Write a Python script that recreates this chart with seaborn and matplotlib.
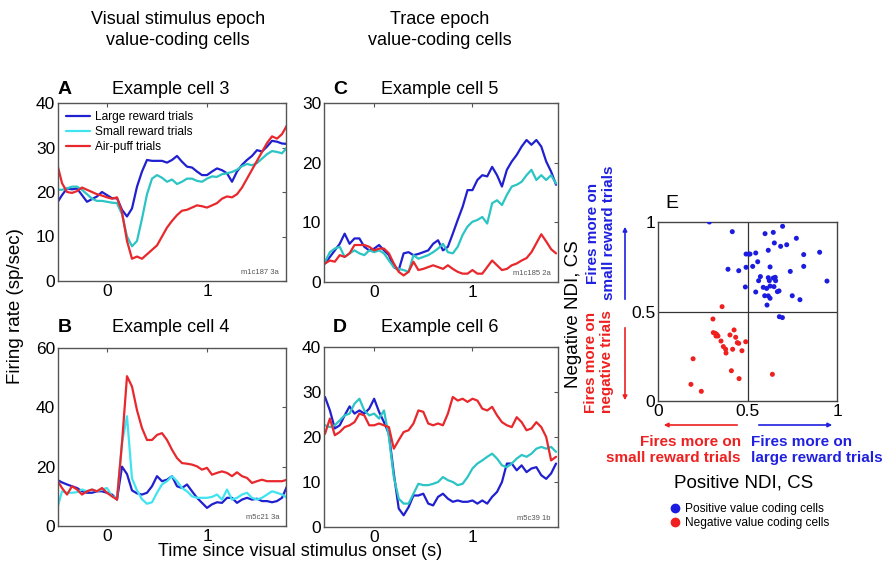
import numpy as np
import pandas as pd
import matplotlib
matplotlib.use("Agg")
import matplotlib.pyplot as plt
from matplotlib.lines import Line2D
from matplotlib.patches import FancyArrowPatch
import seaborn as sns

# ---------------- data ----------------
t_ab = np.round(np.arange(-0.5, 1.8001, 0.05), 2)   # time grid panels A, B
t_cd = np.round(np.arange(-0.5, 1.8501, 0.05), 2)   # time grid panels C, D

a_large = [17.5, 19.3, 20.8, 20.6, 20.8, 19.3, 17.8, 18.4, 19.0, 20.0,
           19.3, 18.6, 18.6, 16.0, 14.5, 16.3, 21.2, 24.6, 27.2, 27.0,
           27.0, 27.0, 26.6, 27.2, 28.1, 26.8, 25.7, 25.5, 24.6, 23.8,
           23.8, 24.6, 25.3, 24.9, 24.2, 22.3, 24.6, 26.1, 27.2, 28.1,
           29.4, 29.1, 30.2, 31.5, 31.3, 30.9, 30.8]
a_small = [20.5, 20.5, 20.8, 21.2, 21.2, 20.5, 19.5, 18.5, 18.0, 18.0,
           17.8, 17.6, 17.5, 15.0, 10.0, 7.8, 9.0, 14.0, 19.5, 23.0,
           23.8, 23.2, 22.3, 22.8, 21.8, 22.3, 23.0, 23.0, 22.5, 22.3,
           23.0, 23.5, 23.4, 24.0, 24.2, 24.5, 25.0, 25.8, 26.3, 26.0,
           26.5, 27.5, 28.5, 29.2, 29.0, 28.7, 30.0]
a_puff = [26.5, 22.0, 20.0, 19.8, 20.2, 21.0, 20.5, 20.0, 19.5, 19.2,
          18.8, 18.5, 18.8, 15.5, 9.0, 5.0, 5.5, 5.0, 6.0, 7.0,
          8.0, 10.0, 12.0, 13.5, 14.8, 15.8, 16.0, 16.5, 17.0, 16.8,
          16.5, 17.0, 17.5, 18.5, 19.0, 18.8, 19.5, 21.0, 23.0, 25.0,
          27.0, 29.0, 31.0, 32.5, 32.0, 33.0, 35.0]

b_large = [15.6, 14.7, 14.0, 13.4, 12.8, 11.7, 11.2, 11.2, 11.7, 11.7,
           11.2, 10.6, 8.9, 20.0, 17.5, 12.0, 11.0, 10.6, 11.2, 13.4,
           16.8, 15.1, 15.6, 16.8, 13.4, 12.8, 14.0, 11.7, 9.5, 7.8,
           6.1, 7.3, 8.0, 7.8, 9.5, 9.5, 7.8, 8.9, 9.5, 8.9,
           9.2, 8.4, 8.4, 8.0, 8.4, 9.5, 13.4]
b_small = [5.6, 11.7, 11.2, 11.2, 11.4, 12.3, 11.7, 12.3, 11.7, 12.3,
           12.8, 10.0, 9.5, 28.0, 37.0, 16.0, 12.0, 9.0, 7.5, 8.0,
           11.2, 14.0, 15.1, 16.8, 15.1, 12.8, 11.7, 10.0, 9.5, 9.5,
           9.5, 9.8, 10.6, 8.9, 12.3, 8.9, 9.5, 10.6, 11.2, 9.5,
           8.9, 9.5, 10.6, 11.7, 11.2, 10.6, 9.5]
b_puff = [15.6, 12.8, 10.6, 13.4, 12.3, 10.6, 11.7, 12.3, 11.7, 12.8,
          11.2, 10.0, 8.9, 28.0, 50.5, 47.0, 39.0, 33.0, 29.0, 29.0,
          30.7, 31.3, 29.0, 25.7, 22.9, 21.2, 21.0, 20.7, 20.1, 19.0,
          19.6, 17.3, 17.9, 18.4, 17.9, 16.8, 18.1, 16.8, 16.2, 14.5,
          15.1, 15.6, 15.1, 15.1, 15.1, 15.1, 15.6]

c_large = [3.1, 4.2, 5.3, 6.4, 8.1, 6.4, 7.3, 7.3, 5.9, 5.3,
           5.6, 6.2, 5.3, 4.5, 2.5, 2.0, 4.8, 5.0, 4.5, 4.7,
           5.0, 5.3, 6.4, 7.0, 5.3, 5.9, 8.1, 10.4, 12.6, 15.4,
           15.4, 17.1, 17.9, 17.7, 19.3, 17.9, 16.0, 18.8, 20.2, 21.3,
           22.7, 23.8, 23.0, 23.8, 22.7, 20.2, 18.5, 16.3]
c_small = [3.4, 5.0, 5.6, 5.9, 4.2, 4.8, 5.3, 4.8, 4.5, 5.3,
           5.0, 5.3, 4.8, 3.6, 2.5, 2.2, 2.0, 1.7, 4.5, 3.9,
           4.2, 4.5, 5.0, 5.6, 6.4, 5.0, 4.8, 5.9, 7.9, 9.3,
           10.1, 10.4, 10.9, 9.8, 13.2, 13.7, 12.9, 14.6, 16.0, 16.3,
           16.8, 17.9, 18.8, 17.1, 17.9, 17.1, 17.9, 16.5]
c_puff = [3.1, 3.6, 3.4, 4.5, 4.2, 4.8, 6.2, 6.2, 6.2, 5.9,
          5.3, 5.6, 5.6, 4.8, 3.1, 1.7, 1.1, 1.7, 3.4, 2.0,
          2.2, 2.5, 2.8, 2.5, 2.2, 2.8, 2.2, 1.7, 1.4, 1.4,
          2.0, 1.4, 1.4, 2.5, 3.6, 2.8, 2.0, 2.2, 2.8, 3.1,
          3.6, 4.0, 5.0, 6.5, 8.0, 6.8, 5.5, 4.8]

d_large = [28.9, 25.9, 21.9, 22.6, 24.8, 26.8, 25.2, 25.9, 25.2, 26.3,
           28.5, 25.6, 23.3, 20.7, 11.9, 4.1, 2.6, 4.4, 7.0, 7.0,
           7.4, 5.2, 4.8, 6.7, 7.4, 6.3, 5.6, 5.9, 5.6, 5.6,
           5.9, 5.2, 5.9, 5.2, 6.7, 7.8, 10.0, 14.1, 14.1, 12.6,
           13.7, 12.2, 13.0, 13.3, 11.5, 10.7, 11.9, 14.1]
d_small = [22.6, 22.2, 22.6, 23.7, 24.8, 25.2, 27.4, 28.5, 25.9, 24.8,
           25.2, 24.1, 25.9, 20.0, 11.1, 6.3, 5.2, 5.2, 7.4, 9.6,
           9.3, 9.3, 9.6, 10.0, 11.1, 10.4, 10.0, 9.3, 9.6, 11.1,
           13.0, 14.1, 14.8, 15.6, 16.3, 15.2, 13.7, 13.3, 14.1, 15.2,
           16.0, 15.6, 16.3, 17.4, 17.8, 17.4, 17.8, 16.7]
d_puff = [20.7, 24.1, 20.4, 21.1, 22.2, 22.6, 23.3, 25.2, 24.8, 22.6,
          22.6, 23.0, 22.6, 22.2, 17.4, 19.3, 21.1, 21.5, 23.0, 25.9,
          25.6, 23.0, 22.6, 23.0, 22.6, 25.2, 28.9, 28.1, 28.5, 27.8,
          28.5, 28.1, 26.3, 25.9, 26.7, 24.8, 23.3, 22.6, 22.2, 24.4,
          23.3, 21.5, 21.9, 23.3, 22.2, 20.0, 14.8, 15.6]

# Panel E: NDI scatter
pos_x = [0.287, 0.415, 0.696, 0.598, 0.644, 0.650, 0.685, 0.719, 0.773, 0.616,
         0.546, 0.492, 0.507, 0.514, 0.557, 0.814, 0.903, 0.529, 0.492, 0.451,
         0.391, 0.626, 0.814, 0.739, 0.572, 0.616, 0.644, 0.655, 0.562, 0.622,
         0.657, 0.944, 0.488, 0.588, 0.607, 0.626, 0.648, 0.546, 0.667, 0.676,
         0.596, 0.616, 0.750, 0.793, 0.626, 0.609, 0.678, 0.695]
pos_y = [1.000, 0.946, 0.976, 0.935, 0.942, 0.883, 0.864, 0.873, 0.909, 0.842,
         0.827, 0.821, 0.821, 0.821, 0.778, 0.818, 0.831, 0.752, 0.747, 0.728,
         0.736, 0.749, 0.752, 0.724, 0.695, 0.689, 0.687, 0.691, 0.672, 0.672,
         0.672, 0.670, 0.637, 0.635, 0.629, 0.642, 0.639, 0.609, 0.611, 0.615,
         0.588, 0.587, 0.588, 0.566, 0.574, 0.536, 0.471, 0.466]
neg_x = [0.358, 0.307, 0.309, 0.320, 0.328, 0.335, 0.324, 0.425, 0.402, 0.434,
         0.352, 0.443, 0.451, 0.490, 0.365, 0.378, 0.417, 0.469, 0.380, 0.196,
         0.410, 0.639, 0.453, 0.184, 0.242]
neg_y = [0.527, 0.458, 0.382, 0.378, 0.372, 0.363, 0.363, 0.397, 0.369, 0.356,
         0.335, 0.326, 0.322, 0.331, 0.304, 0.289, 0.289, 0.281, 0.268, 0.236,
         0.169, 0.149, 0.125, 0.093, 0.054]

trial_names = ["Large reward trials", "Small reward trials", "Air-puff trials"]
cell_codes = ["m1c187 3a", "m5c21 3a", "m1c185 2a", "m5c39 1b"]

# ---------------- style ----------------
sns.set_theme(style="white")
plt.rcParams["font.family"] = ["Liberation Sans", "DejaVu Sans"]
plt.rcParams["text.color"] = "black"
plt.rcParams["axes.labelcolor"] = "black"
plt.rcParams["xtick.color"] = "black"
plt.rcParams["ytick.color"] = "black"

W, H = 886, 571
fig = plt.figure(figsize=(W / 100, H / 100), dpi=100)


def rect(l, t, r, b):
    return [l / W, 1 - b / H, (r - l) / W, (b - t) / H]


def ftext(x, y, s, **kw):
    fig.text(x / W, 1 - y / H, s, **kw)


BLUE = "#2020d0"
TEAL = "#2cc4c4"
CYAN = "#40e4f0"
RED = "#e8282c"
TXT_BLUE = "#2020e0"
TXT_RED = "#ee2020"


def panel(box, t, series, pal_small, ylim, yticks, xlim, code, legend=False):
    ax = fig.add_axes(rect(*box))
    df = pd.concat([
        pd.DataFrame({"t": t, "rate": v, "trial": n})
        for n, v in zip(trial_names, series)
    ])
    pal = {trial_names[0]: BLUE, trial_names[1]: pal_small, trial_names[2]: RED}
    sns.lineplot(data=df, x="t", y="rate", hue="trial", palette=pal,
                 hue_order=trial_names, estimator=None, sort=False,
                 linewidth=1.6, ax=ax, legend=legend)
    ax.set_xlim(*xlim)
    ax.set_ylim(*ylim)
    ax.set_xticks([0, 1])
    ax.set_yticks(yticks)
    ax.set_xlabel("")
    ax.set_ylabel("")
    ax.tick_params(direction="in", top=True, right=True, length=3,
                   width=0.8, color="#555555", labelsize=12.5, pad=2,
                   labelcolor="black")
    for sp in ax.spines.values():
        sp.set_color("#555555")
        sp.set_linewidth(1.0)
    ax.text(0.97, 0.03, code, transform=ax.transAxes, ha="right", va="bottom",
            fontsize=5.5, color="#555555")
    if legend:
        leg = ax.legend(loc="upper left", frameon=False, fontsize=8.6,
                        handlelength=2.0, handletextpad=0.45,
                        labelspacing=0.28, borderaxespad=0.25)
        for ln in leg.get_lines():
            ln.set_linewidth(1.6)
        leg.get_lines()[1].set_color(CYAN)
    return ax


panel((58, 103, 286, 281), t_ab, [a_large, a_small, a_puff], TEAL,
      (0, 40), [0, 10, 20, 30, 40], (-0.49, 1.79), cell_codes[0], legend=True)
panel((58, 348, 286, 526), t_ab, [b_large, b_small, b_puff], CYAN,
      (0, 60), [0, 20, 40, 60], (-0.49, 1.79), cell_codes[1])
panel((324, 103, 558, 282), t_cd, [c_large, c_small, c_puff], TEAL,
      (0, 30), [0, 10, 20, 30], (-0.51, 1.87), cell_codes[2])
panel((324, 347, 558, 527), t_cd, [d_large, d_small, d_puff], TEAL,
      (0, 40), [0, 10, 20, 30, 40], (-0.51, 1.87), cell_codes[3])

# ---------------- panel E ----------------
axe = fig.add_axes(rect(658, 222, 837, 401))
dfe = pd.concat([
    pd.DataFrame({"pos": pos_x, "neg": pos_y, "kind": "Positive value coding cells"}),
    pd.DataFrame({"pos": neg_x, "neg": neg_y, "kind": "Negative value coding cells"}),
])
sns.scatterplot(data=dfe, x="pos", y="neg", hue="kind",
                palette={"Positive value coding cells": "#1c1ce0",
                         "Negative value coding cells": "#ee2020"},
                s=13, linewidth=0, ax=axe, legend=False, zorder=3)
axe.axhline(0.5, color="#333333", lw=0.9, zorder=1)
axe.axvline(0.5, color="#333333", lw=0.9, zorder=1)
axe.set_xlim(0, 1)
axe.set_ylim(0, 1)
axe.set_xticks([0, 0.5, 1])
axe.set_xticklabels(["0", "0.5", "1"])
axe.set_yticks([0, 0.5, 1])
axe.set_yticklabels(["0", "0.5", "1"])
axe.set_xlabel("")
axe.set_ylabel("")
axe.tick_params(direction="in", length=0, labelsize=12.5, pad=2,
                labelcolor="black")
for sp in axe.spines.values():
    sp.set_color("#444444")
    sp.set_linewidth(1.0)

# ---------------- texts ----------------
ftext(178, 30, "Visual stimulus epoch\nvalue-coding cells", ha="center",
      va="center", fontsize=13, linespacing=1.25)
ftext(440, 30, "Trace epoch\nvalue-coding cells", ha="center",
      va="center", fontsize=13, linespacing=1.25)

for lx, ly, letter, cx, title in [(65, 89, "A", 171, "Example cell 3"),
                                  (65, 327, "B", 171, "Example cell 4"),
                                  (340, 89, "C", 440, "Example cell 5"),
                                  (340, 327, "D", 440, "Example cell 6")]:
    ftext(lx, ly, letter, ha="center", va="center", fontsize=14,
          fontweight="bold")
    ftext(cx, ly, title, ha="center", va="center", fontsize=13)

ftext(672, 204, "E", ha="center", va="center", fontsize=14)

ftext(16, 306, "Firing rate (sp/sec)", ha="center", va="center",
      fontsize=13.5, rotation=90)
ftext(300, 552, "Time since visual stimulus onset (s)", ha="center",
      va="center", fontsize=13)

# panel E annotations
ftext(574, 314, "Negative NDI, CS", ha="center", va="center", fontsize=13.5,
      rotation=90)
ftext(601, 233, "Fires more on\nsmall reward trials", ha="center",
      va="center", fontsize=11, fontweight="bold", rotation=90,
      color=TXT_BLUE, linespacing=1.15)
ftext(599, 362, "Fires more on\nnegative trials", ha="center",
      va="center", fontsize=11, fontweight="bold", rotation=90,
      color=TXT_RED, linespacing=1.15)
ftext(741, 450, "Fires more on\nsmall reward trials", ha="right",
      va="center", fontsize=11, fontweight="bold", color=TXT_RED,
      linespacing=1.15)
ftext(751, 450, "Fires more on\nlarge reward trials", ha="left",
      va="center", fontsize=11, fontweight="bold", color=TXT_BLUE,
      linespacing=1.15)
ftext(744, 483, "Positive NDI, CS", ha="center", va="center", fontsize=13.5)


def farrow(x0, y0, x1, y1, color):
    fig.add_artist(FancyArrowPatch(
        (x0 / W, 1 - y0 / H), (x1 / W, 1 - y1 / H),
        transform=fig.transFigure, arrowstyle="-|>", mutation_scale=6,
        color=color, lw=1.2))


farrow(625, 302, 625, 224, TXT_BLUE)
farrow(625, 325, 625, 403, TXT_RED)
farrow(740, 425, 661, 425, TXT_RED)
farrow(756, 425, 835, 425, TXT_BLUE)

handles = [Line2D([], [], marker="o", ls="", color="#1c1ce0", markersize=6),
           Line2D([], [], marker="o", ls="", color="#ee2020", markersize=6)]
fig.legend(handles, ["Positive value coding cells", "Negative value coding cells"],
           loc="upper left", bbox_to_anchor=(662 / W, 1 - 497 / H),
           frameon=False, fontsize=8.6, handletextpad=0.2, labelspacing=0.15,
           borderpad=0.0, handlelength=1.2)

fig.savefig("out.png", dpi=100)
